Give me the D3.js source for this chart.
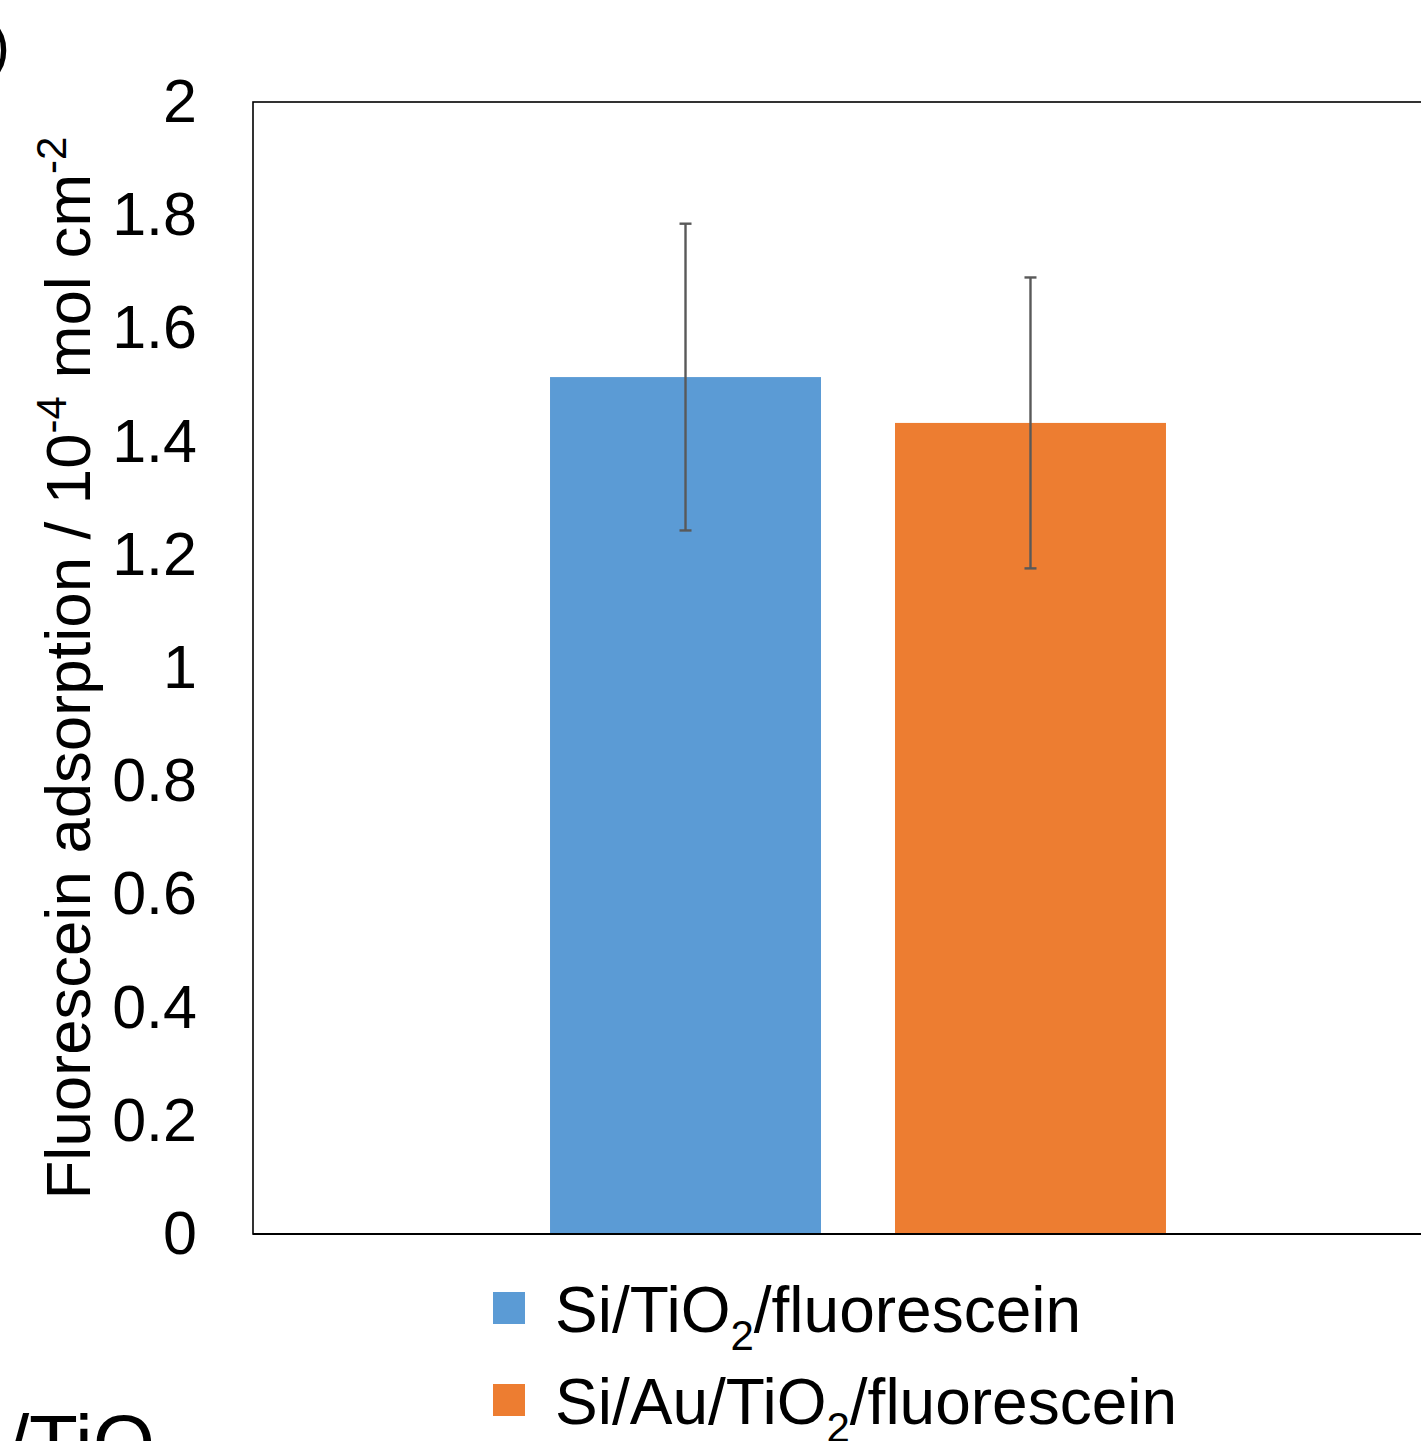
<!DOCTYPE html>
<html>
<head>
<meta charset="utf-8">
<script src="https://cdn.jsdelivr.net/npm/d3@7"></script>
<style>
  body { margin: 0; background: #fff; }
  svg { display: block; font-family: "Liberation Sans", Arial, sans-serif; }
</style>
</head>
<body>
<div id="chart"></div>
<script>
// Data
const series = ["Si/TiO2/fluorescein", "Si/Au/TiO2/fluorescein"];
const values = [1.514, 1.433];
const errors = [0.271, 0.257];
const colors = ["#5B9BD5", "#ED7D31"];
const yTicks = [0, 0.2, 0.4, 0.6, 0.8, 1, 1.2, 1.4, 1.6, 1.8, 2];

const W = 1421, H = 1441;
// plot frame; right edge runs past the picture like the cropped original
const plot = { left: 253, top: 102, right: 1463, bottom: 1234 };

const svg = d3.select("#chart").append("svg")
    .attr("width", W)
    .attr("height", H);

const y = d3.scaleLinear()
    .domain([0, 2])
    .range([plot.bottom, plot.top]);

const x = d3.scaleBand()
    .domain(series)
    .range([plot.left, plot.right])
    .paddingInner(0.2145)
    .paddingOuter(0.861);

// frame
svg.append("rect")
    .attr("x", plot.left)
    .attr("y", plot.top)
    .attr("width", plot.right - plot.left)
    .attr("height", plot.bottom - plot.top)
    .attr("fill", "none")
    .attr("stroke", "#000")
    .attr("stroke-width", 1.6);

// bars
svg.selectAll(".bar")
    .data(series)
    .enter()
    .append("rect")
    .attr("class", "bar")
    .attr("x", d => x(d))
    .attr("y", (d, i) => y(values[i]))
    .attr("width", x.bandwidth())
    .attr("height", (d, i) => y(0) - y(values[i]))
    .attr("fill", (d, i) => colors[i]);

// x axis line drawn over the bars
svg.append("line")
    .attr("x1", plot.left).attr("x2", plot.right)
    .attr("y1", y(0)).attr("y2", y(0))
    .attr("stroke", "#000")
    .attr("stroke-width", 2.2);

// error bars
const err = svg.selectAll(".err")
    .data(series)
    .enter()
    .append("g")
    .attr("class", "err")
    .attr("stroke", "#595959")
    .attr("stroke-width", 2.4);

err.append("line")
    .attr("x1", d => x(d) + x.bandwidth() / 2)
    .attr("x2", d => x(d) + x.bandwidth() / 2)
    .attr("y1", (d, i) => y(values[i] + errors[i]))
    .attr("y2", (d, i) => y(values[i] - errors[i]));

[1, -1].forEach(s => {
    err.append("line")
        .attr("x1", d => x(d) + x.bandwidth() / 2 - 6)
        .attr("x2", d => x(d) + x.bandwidth() / 2 + 6)
        .attr("y1", (d, i) => y(values[i] + s * errors[i]))
        .attr("y2", (d, i) => y(values[i] + s * errors[i]));
});

// y axis labels
const yAxis = d3.axisLeft(y)
    .tickValues(yTicks)
    .tickFormat(d3.format("~g"))
    .tickSize(0)
    .tickPadding(56);

const gy = svg.append("g")
    .attr("transform", `translate(${plot.left},0)`)
    .call(yAxis);
gy.select(".domain").remove();
gy.selectAll("text")
    .attr("font-size", 61)
    .attr("font-family", "'Liberation Sans', Arial, sans-serif")
    .attr("fill", "#000");

// y axis title
const yTitle = svg.append("text")
    .attr("transform", `translate(90,${(plot.top + plot.bottom) / 2}) rotate(-90)`)
    .attr("text-anchor", "middle")
    .attr("font-size", 63.5)
    .attr("fill", "#000");
yTitle.append("tspan").text("Fluorescein adsorption / 10");
yTitle.append("tspan").attr("dy", -24).attr("font-size", 42).text("-4");
yTitle.append("tspan").attr("dy", 24).text(" mol cm");
yTitle.append("tspan").attr("dy", -24).attr("font-size", 42).text("-2");

// legend
const legend = svg.selectAll(".legend")
    .data(series)
    .enter()
    .append("g")
    .attr("class", "legend")
    .attr("transform", (d, i) => `translate(493,${1292 + i * 92})`);

legend.append("rect")
    .attr("width", 32)
    .attr("height", 32)
    .attr("fill", (d, i) => colors[i]);

legend.each(function (d) {
    const t = d3.select(this).append("text")
        .attr("x", 62)
        .attr("y", 40)
        .attr("font-size", 64)
        .attr("fill", "#000");
    const parts = d.split("TiO2");
    t.append("tspan").text(parts[0] + "TiO");
    t.append("tspan").attr("dy", 18).attr("font-size", 42).text("2");
    t.append("tspan").attr("dy", -18).text(parts[1]);
});

// pieces of neighbouring panels cut by the crop
svg.append("text")
    .attr("x", 10).attr("y", 66)
    .attr("text-anchor", "end")
    .attr("font-size", 60)
    .text(")");

svg.append("text")
    .attr("x", 155).attr("y", 1471)
    .attr("text-anchor", "end")
    .attr("font-size", 80)
    .text("/TiO");
</script>
</body>
</html>
